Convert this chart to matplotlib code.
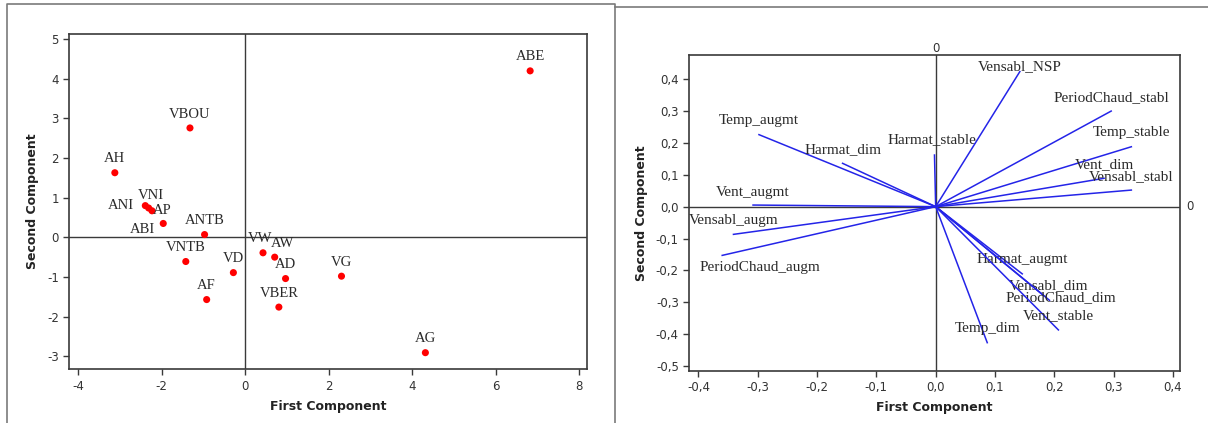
import matplotlib

matplotlib.use("Agg")
import matplotlib.pyplot as plt
from matplotlib.lines import Line2D
from matplotlib.ticker import FuncFormatter

plt.rcParams["axes.unicode_minus"] = False

# score plot (observations)
obs_names = ["ABE", "VBOU", "AH", "VNI", "ANI", "AP", "ABI", "ANTB", "VNTB",
             "VD", "AF", "VW", "AW", "AD", "VBER", "VG", "AG"]
pc1_scores = [6.83, -1.32, -3.12, -2.39, -2.31, -2.23, -1.96, -0.97, -1.42,
              -0.28, -0.92, 0.43, 0.71, 0.97, 0.81, 2.31, 4.32]
pc2_scores = [4.20, 2.76, 1.63, 0.80, 0.74, 0.67, 0.35, 0.07, -0.61,
              -0.89, -1.57, -0.39, -0.50, -1.04, -1.76, -0.98, -2.91]

# loading plot (variables)
var_names = ["Temp_augmt", "Harmat_dim", "Harmat_stable", "Vent_augmt",
             "Vensabl_augm", "PeriodChaud_augm", "Vensabl_NSP",
             "PeriodChaud_stabl", "Temp_stable", "Vent_dim", "Vensabl_stabl",
             "Harmat_augmt", "Vensabl_dim", "PeriodChaud_dim", "Vent_stable",
             "Temp_dim"]
pc1_load = [-0.298, -0.157, -0.002, -0.308, -0.341, -0.360, 0.142,
            0.296, 0.330, 0.284, 0.330, 0.146, 0.182, 0.192, 0.207, 0.087]
pc2_load = [0.226, 0.136, 0.162, 0.005, -0.087, -0.153, 0.424,
            0.300, 0.188, 0.089, 0.052, -0.211, -0.279, -0.294, -0.387, -0.427]

# label offsets in points (default: centred just above the mark)
obs_offsets = {"VNI": (3.9, 7.2), "ANI": (-20, 1.7), "AP": (7.7, 0),
               "ABI": (-14.8, -4.1), "VW": (-2.5, 10.3), "AW": (5.5, 9.9)}
var_offsets = {"Vensabl_NSP": (0, 3.6), "PeriodChaud_augm": (27, -8.6),
               "Vent_augmt": (0, 8.9), "Harmat_stable": (-1.8, 10.8),
               "Vensabl_dim": (3.4, 6.9), "PeriodChaud_dim": (8.2, 1.9)}

TICK_FONT = dict(family="DejaVu Sans", size=8.5, color="#333333")
LABEL_FONT = dict(family="DejaVu Sans", size=9, weight="bold", color="#222222")
ANN_COLOR = "#2a2a2a"
FRAME = "#3a3a3a"

fig = plt.figure(figsize=(12.08, 4.23), dpi=100)

# page frames around the two panels
fig.add_artist(Line2D([7 / 1208, 7 / 1208, 615.5 / 1208, 615.5 / 1208],
                      [0, 1 - 4 / 423, 1 - 4 / 423, 0],
                      transform=fig.transFigure, color="#7a7a7a", lw=1.2))
fig.add_artist(Line2D([615.5 / 1208, 1], [1 - 7 / 423, 1 - 7 / 423],
                      transform=fig.transFigure, color="#7a7a7a", lw=1.2))


def style_axes(ax):
    for sp in ax.spines.values():
        sp.set_color(FRAME)
        sp.set_linewidth(1.2)
    ax.tick_params(direction="out", length=4, width=1, color=FRAME,
                   labelsize=TICK_FONT["size"], labelcolor=TICK_FONT["color"])
    for lab in ax.get_xticklabels() + ax.get_yticklabels():
        lab.set_family(TICK_FONT["family"])


# ---- left: score plot
ax1 = fig.add_axes([0.0574, 0.1269, 0.4288, 0.7927])
ax1.axhline(0, color=FRAME, lw=1)
ax1.axvline(0, color=FRAME, lw=1)
ax1.scatter(pc1_scores, pc2_scores, s=26, color="#ff0000", zorder=3,
            edgecolors="none")
for name, x, y in zip(obs_names, pc1_scores, pc2_scores):
    ax1.annotate(name, (x, y), xytext=obs_offsets.get(name, (0, 10)),
                 textcoords="offset points", ha="center", va="center",
                 family="Liberation Serif", fontsize=10.5, color=ANN_COLOR)
ax1.set_xlim(-4.21, 8.2)
ax1.set_ylim(-3.33, 5.13)
ax1.set_xticks([-4, -2, 0, 2, 4, 6, 8])
ax1.set_yticks([-3, -2, -1, 0, 1, 2, 3, 4, 5])
style_axes(ax1)
ax1.set_xlabel("First Component", labelpad=5, **LABEL_FONT)
ax1.set_ylabel("Second Component", labelpad=6, **LABEL_FONT)

# ---- right: loading plot
ax2 = fig.add_axes([0.5706, 0.1236, 0.4062, 0.7464])
ax2.axhline(0, color=FRAME, lw=1)
ax2.axvline(0, color=FRAME, lw=1)
for name, x, y in zip(var_names, pc1_load, pc2_load):
    ax2.plot([0, x], [0, y], color="#2424e8", lw=1.1, zorder=3)
    ax2.annotate(name, (x, y), xytext=var_offsets.get(name, (0, 10)),
                 textcoords="offset points", ha="center", va="center",
                 family="Liberation Serif", fontsize=11, color=ANN_COLOR)
ax2.set_xlim(-0.4155, 0.412)
ax2.set_ylim(-0.515, 0.476)
ax2.set_xticks([-0.4, -0.3, -0.2, -0.1, 0.0, 0.1, 0.2, 0.3, 0.4])
ax2.set_yticks([-0.5, -0.4, -0.3, -0.2, -0.1, 0.0, 0.1, 0.2, 0.3, 0.4])
comma = FuncFormatter(lambda v, _: f"{v:.1f}".replace(".", ","))
ax2.xaxis.set_major_formatter(comma)
ax2.yaxis.set_major_formatter(comma)
style_axes(ax2)
ax2.set_xlabel("First Component", labelpad=5, **LABEL_FONT)
ax2.set_ylabel("Second Component", labelpad=6, **LABEL_FONT)
# reference-line labels
ax2.text(0, 1.0, "0", transform=ax2.get_xaxis_transform(), ha="center",
         va="bottom", family="DejaVu Sans", fontsize=8.5, color="#333333")
ax2.text(1.012, 0, "0", transform=ax2.get_yaxis_transform(), ha="left",
         va="center", family="DejaVu Sans", fontsize=8.5, color="#333333")

fig.savefig("out.png", dpi=100)
